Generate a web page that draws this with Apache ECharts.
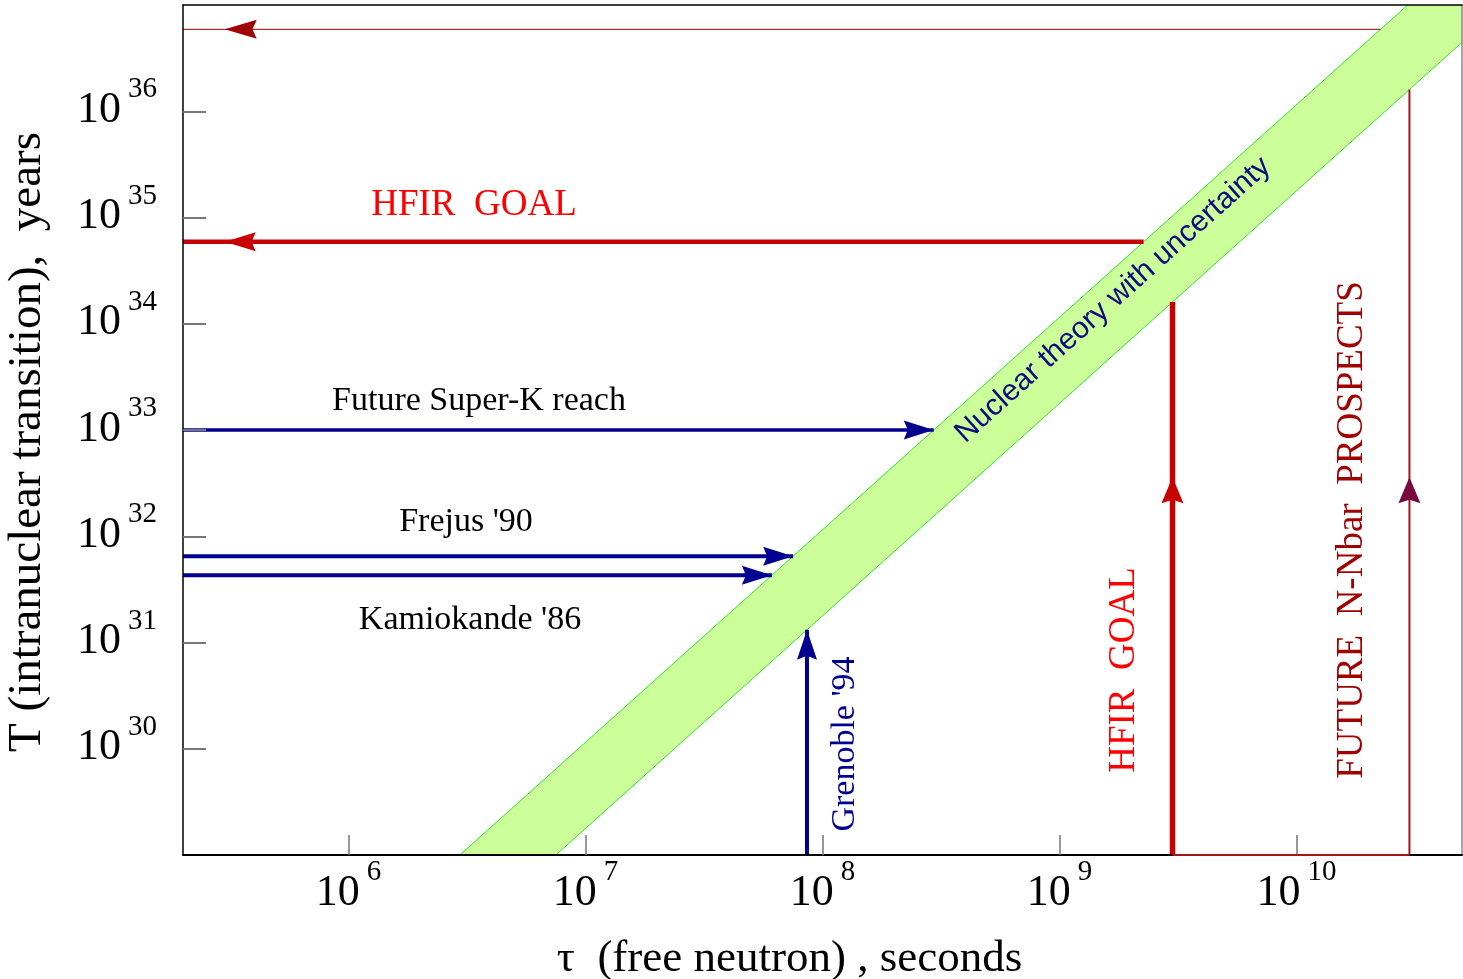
<!DOCTYPE html>
<html>
<head>
<meta charset="utf-8">
<title>Neutron–antineutron transition limits</title>
<script src="https://cdn.jsdelivr.net/npm/echarts@6/dist/echarts.min.js"></script>
<style>
  html, body { margin: 0; padding: 0; background: #fff; }
  #chart { width: 1463px; height: 979px; }
</style>
</head>
<body>
<div id="chart"></div>
<script>
// ---- axis ranges and decade labels ----
const tauRange = [2e5, 5e10];          // free neutron oscillation time, seconds
const lifeRange = [1e29, 1e37];        // intranuclear transition time, years
const tauExponents = [6, 7, 8, 9, 10];
const lifeExponents = [30, 31, 32, 33, 34, 35, 36];

// ---- nuclear theory band: T = R * tau^2 (years, seconds) ----
const bandR = [1.78e15, 1.15e16];      // [lower edge, upper edge]

// ---- intranuclear limits, years ----
const superKReach = 1e33;
const frejus90 = 6.5e31;
const kamiokande86 = 4.3e31;
const hfirGoalT = 5.9e34;
const futureGoalT = 5.9e36;

// ---- free neutron limits, seconds ----
const grenoble94 = 8.6e7;
const hfirGoalTau = 3e9;
const futureGoalTau = 3e10;

// ---- where the mid-line arrowheads sit ----
const leftArrowTau = 3e5;
const upArrowT = 3.6e32;

const lg = Math.log10;
const tauOnUpperEdge = T => Math.sqrt(T / bandR[1]);
const lifeOnLowerEdge = tau => bandR[0] * tau * tau;
const pt = (tau, T) => [lg(tau), lg(T)];

// band outline clipped to the plotting box
const bandPoly = [
  pt(Math.sqrt(lifeRange[0] / bandR[1]), lifeRange[0]),
  pt(Math.sqrt(lifeRange[0] / bandR[0]), lifeRange[0]),
  pt(tauRange[1], lifeOnLowerEdge(tauRange[1])),
  pt(tauRange[1], lifeRange[1]),
  pt(Math.sqrt(lifeRange[1] / bandR[1]), lifeRange[1])
];

const BLUE = '#000090';
const RED = '#c80000';
const DARKRED = '#a01818';
const SERIF = '"Liberation Serif", "Times New Roman", serif';
const SANS = '"Liberation Sans", Arial, sans-serif';

function segment(points, color, width, z) {
  return {
    type: 'line', data: points, symbol: 'none', showSymbol: false,
    lineStyle: { color: color, width: width, cap: 'butt' },
    silent: true, animation: false, z: z || 3
  };
}

const ARROW = 'path://M9,0 L18,30 L9,26 L0,30 Z';
function head(point, dir, size, color) {
  // point is the arrow tip; shift the symbol so its tip lands there
  const rot = { up: 0, left: 90, right: -90 }[dir];
  const h = size[1] / 2;
  const off = { up: [0, h], left: [h, 0], right: [-h, 0] }[dir];
  return {
    value: point, symbolRotate: rot, symbolOffset: off, symbolSize: size,
    itemStyle: { color: color, opacity: 1 }
  };
}

const tickLabel = {
  formatter: v => '{b|10}{e|' + Math.round(v) + '}',
  rich: {
    b: { fontFamily: SERIF, fontSize: 44, lineHeight: 44, verticalAlign: 'bottom', color: '#000' },
    e: { fontFamily: SERIF, fontSize: 29, lineHeight: 29, verticalAlign: 'bottom', color: '#000', padding: [0, 0, 28, 7] }
  }
};

const series = [
  // theory band
  {
    type: 'custom', silent: true, animation: false, z: 1,
    data: [bandPoly[0]],
    renderItem: (params, api) => ({
      type: 'polygon',
      shape: { points: bandPoly.map(p => api.coord(p)) },
      style: { fill: '#ccff99' }
    })
  },
  segment([bandPoly[0], bandPoly[4]], '#2ee62e', 1, 2),
  segment([bandPoly[1], bandPoly[2]], '#2ee62e', 1, 2),

  // experimental limits
  segment([pt(tauRange[0], superKReach), pt(tauOnUpperEdge(superKReach), superKReach)], BLUE, 3.5),
  segment([pt(tauRange[0], frejus90), pt(tauOnUpperEdge(frejus90), frejus90)], BLUE, 4),
  segment([pt(tauRange[0], kamiokande86), pt(tauOnUpperEdge(kamiokande86), kamiokande86)], BLUE, 4),
  segment([pt(grenoble94, lifeRange[0]), pt(grenoble94, lifeOnLowerEdge(grenoble94))], BLUE, 4),

  // HFIR goal
  segment([pt(hfirGoalTau, lifeRange[0]), pt(hfirGoalTau, lifeOnLowerEdge(hfirGoalTau))], RED, 5.5),
  segment([pt(tauOnUpperEdge(hfirGoalT), hfirGoalT), pt(tauRange[0], hfirGoalT)], RED, 4.5),

  // future prospects
  segment([pt(futureGoalTau, lifeRange[0]), pt(futureGoalTau, lifeOnLowerEdge(futureGoalTau))], DARKRED, 2),
  segment([pt(tauOnUpperEdge(futureGoalT), futureGoalT), pt(tauRange[0], futureGoalT)], '#a83030', 1.3),
  segment([pt(hfirGoalTau, lifeRange[0]), pt(futureGoalTau, lifeRange[0])], DARKRED, 2, 6),

  // arrowheads
  {
    type: 'scatter', silent: true, animation: false, z: 4,
    symbol: ARROW,
    itemStyle: { opacity: 1 },
    data: [
      head(pt(tauOnUpperEdge(superKReach), superKReach), 'right', [19, 30], BLUE),
      head(pt(tauOnUpperEdge(frejus90), frejus90), 'right', [19, 30], BLUE),
      head(pt(tauOnUpperEdge(kamiokande86), kamiokande86), 'right', [19, 30], BLUE),
      head(pt(grenoble94, lifeOnLowerEdge(grenoble94)), 'up', [20, 30], BLUE),
      head(pt(hfirGoalTau, upArrowT), 'up', [22, 26], RED),
      head(pt(futureGoalTau, upArrowT), 'up', [22, 26], '#780a40'),
      head(pt(leftArrowTau, hfirGoalT), 'left', [19, 31], RED),
      head(pt(leftArrowTau, futureGoalT), 'left', [19, 32], '#a00000')
    ]
  }
];

function txt(text, x, y, size, color, opts) {
  opts = opts || {};
  return {
    type: 'text', x: x, y: y, z: 100, silent: true,
    rotation: (opts.rot || 0) * Math.PI / 180,
    style: {
      text: text, fill: color, align: 'center', verticalAlign: 'middle',
      font: size + 'px ' + (opts.font || SERIF)
    }
  };
}

const option = {
  animation: false,
  backgroundColor: '#fff',
  grid: { left: 183, right: 1, top: 5, bottom: 124, containLabel: false, outerBoundsMode: 'none' },
  xAxis: [
    {
      type: 'value', position: 'bottom', z: 5,
      min: lg(tauRange[0]), max: lg(tauRange[1]),
      axisLine: { show: true, onZero: false, lineStyle: { color: '#000', width: 2 } },
      axisTick: { show: true, inside: true, length: 20, customValues: tauExponents, lineStyle: { color: '#777', width: 1.5 } },
      axisLabel: Object.assign({ customValues: tauExponents, margin: 16, verticalAlign: 'top' }, tickLabel),
      splitLine: { show: false },
      name: 'τ  (free neutron) , seconds', nameLocation: 'middle', nameGap: 82,
      nameTextStyle: { fontFamily: SERIF, fontSize: 45, color: '#000', padding: [0, 66, 0, 0] }
    },
    {
      type: 'value', position: 'top', z: 5,
      min: lg(tauRange[0]), max: lg(tauRange[1]),
      axisLine: { show: true, onZero: false, lineStyle: { color: '#000', width: 1.5 } },
      axisTick: { show: false }, axisLabel: { show: false }, splitLine: { show: false }
    }
  ],
  yAxis: [
    {
      type: 'value', position: 'left', z: 5,
      min: lg(lifeRange[0]), max: lg(lifeRange[1]),
      axisLine: { show: true, onZero: false, lineStyle: { color: '#000', width: 1.5 } },
      axisTick: { show: true, inside: true, length: 23, customValues: lifeExponents, lineStyle: { color: '#777', width: 2 } },
      axisLabel: Object.assign({ customValues: lifeExponents, margin: 26, align: 'right', padding: [0, 0, 2, 0] }, tickLabel),
      splitLine: { show: false },
      name: 'T (intranuclear transition),  years', nameLocation: 'middle', nameGap: 132,
      nameTextStyle: { fontFamily: SERIF, fontSize: 47, color: '#000', padding: [0, 24, 0, 0] }
    },
    {
      type: 'value', position: 'right', z: 5,
      min: lg(lifeRange[0]), max: lg(lifeRange[1]),
      axisLine: { show: true, onZero: false, lineStyle: { color: '#888', width: 1.5 } },
      axisTick: { show: false }, axisLabel: { show: false }, splitLine: { show: false }
    }
  ],
  series: series,
  graphic: [
    txt('HFIR  GOAL', 474, 205, 37, '#ff0000'),
    txt('Future Super-K reach', 479, 401, 34, '#000'),
    txt("Frejus '90", 466, 522, 34, '#000'),
    txt("Kamiokande '86", 470, 620, 34, '#000'),
    txt("Grenoble '94", 845, 744, 34, BLUE, { rot: 90 }),
    txt('HFIR  GOAL', 1124, 670, 37, '#ff0000', { rot: 90 }),
    txt('FUTURE  N-Nbar  PROSPECTS', 1352, 530, 37, '#a00000', { rot: 90 }),
    txt('Nuclear theory with uncertainty', 1113, 300, 30, '#0c0c80', { rot: 41.9, font: SANS })
  ]
};

const chart = echarts.init(document.getElementById('chart'), null, { renderer: 'canvas' });
chart.setOption(option);
</script>
</body>
</html>
